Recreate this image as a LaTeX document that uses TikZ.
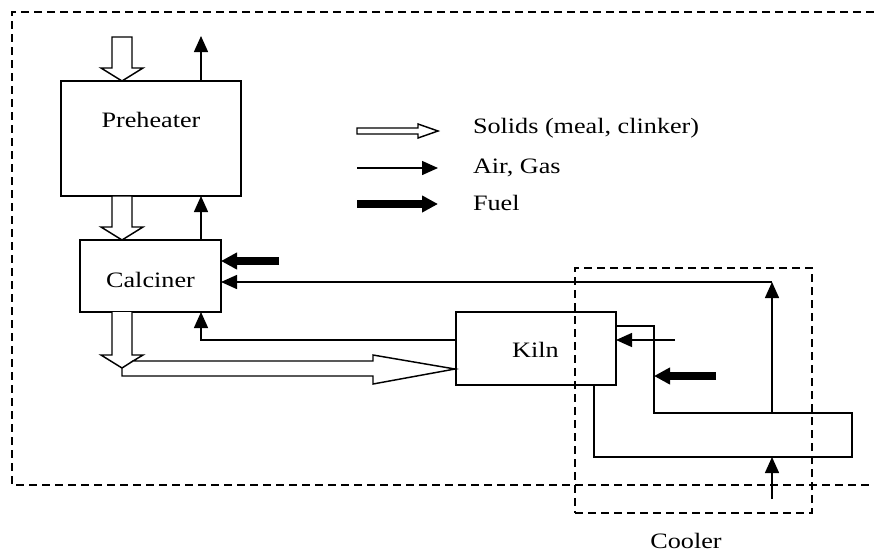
\documentclass[tikz,border=0pt]{standalone}
\usepackage{fontspec}
\setmainfont{Liberation Serif}
\usetikzlibrary{arrows.meta,calc}
\newcommand\wideTxt[1]{\scalebox{1.19}[1]{#1}}
\begin{document}
\begin{tikzpicture}[x=0.75pt,y=-0.75pt,
  box/.style={draw,line width=1.1pt,inner sep=0,outer sep=0},
  lbl/.style={inner sep=0,outer sep=0,font=\fontsize{16.5}{18}\selectfont},
  air/.style={line width=1.1pt,-{Triangle[length=12pt,width=10.5pt]}},
  fuel/.style={line width=6pt,-{Triangle[length=12pt,width=12pt]}},
  hol/.style={draw,line width=1.1pt,fill=white,line join=miter},
  pipe/.style={line width=1.1pt},
  frame/.style={line width=1pt,dash pattern=on 6pt off 3.75pt}]
\useasboundingbox (0,0) rectangle (874,554);

% outer dashed frame (plant boundary)
\draw[frame] (874,12) -- (12,12) -- (12,485) -- (874,485);

% boxes
\node[box,minimum width=135pt,minimum height=86.25pt] (pre) at (151,138.5) {};
\node[box,minimum width=105.75pt,minimum height=54pt] (cal) at (150.5,276) {};
\node[box,minimum width=120pt,minimum height=54.75pt] (kiln) at (536,348.5) {};
\node[draw,frame,inner sep=0,outer sep=0,minimum width=177.75pt,minimum height=183.75pt] (cooler) at (693.5,390.5) {};

% labels
\node[lbl,anchor=base] (preT) at (151,127) {\wideTxt{Preheater}};
\node[lbl,anchor=base] (calT) at (150.5,287) {\wideTxt{Calciner}};
\node[lbl,anchor=base] (kilnT) at (535.5,357) {\wideTxt{Kiln}};
\node[lbl,anchor=base] (coolT) at (686,548) {\wideTxt{Cooler}};

% legend
\node[lbl,anchor=base west] (lg1) at (473,133) {\wideTxt{Solids (meal, clinker)}};
\node[lbl,anchor=base west] (lg2) at (473,173) {\wideTxt{Air, Gas}};
\node[lbl,anchor=base west] (lg3) at (473,210) {\wideTxt{Fuel}};
\draw[hol] (357,128) -- (418,128) -- (418,124) -- (438,131) -- (418,138) -- (418,134) -- (357,134) -- cycle;
\coordinate (l2a) at (357,168); \coordinate (l2b) at (438,168);
\draw[air] (l2a) -- (l2b);
\coordinate (l3a) at (357,204); \coordinate (l3b) at (438,204);
\draw[fuel] (l3a) -- (l3b);

% helper coordinates
\coordinate (solX) at (122,0);
\coordinate (airX) at (201,0);

% solids
\draw[hol] (solX |- pre.north) -- ++(-21,-13) -- ++(11,0) -- ++(0,-31) -- ++(20,0) -- ++(0,31) -- ++(11,0) -- cycle;
\draw[hol] (solX |- cal.north) -- ++(-21,-13) -- ++(11,0) -- ++(0,-31) -- ++(20,0) -- ++(0,31) -- ++(11,0) -- cycle;
\draw[hol] (112,312) -- (112,355) -- (101,355) -- (122,368) -- (122,376) -- (373,376) -- (373,384) -- (455,369) -- (373,355) -- (373,361) -- (133,361) -- (143,355) -- (132,355) -- (132,312);
\draw[pipe] (133,361) -- (122,368);

% gas
\coordinate (airTop) at (201,36);
\draw[air] (airX |- pre.north) -- (airTop);
\draw[air] (airX |- cal.north) -- (airX |- pre.south);
\coordinate (ret) at (772,282);
\coordinate (pipeTop) at (772,413);
\draw[air] (pipeTop) -- (ret);
\draw[air] (ret) -- (ret -| cal.east);
\coordinate (kOut) at (0,340);
\draw[air] (kiln.west |- kOut) -| (airX |- cal.south);
\coordinate (kAir) at (675,340);
\draw[air] (kAir) -- (kAir -| kiln.east);
\coordinate (coolIn) at (772,499);
\coordinate (pipeBot) at (772,457);
\draw[air] (coolIn) -- (pipeBot);

% fuel
\coordinate (fuelC) at (279,261);
\draw[fuel] (fuelC) -- (fuelC -| cal.east);
\coordinate (pipeX) at (654,0);
\coordinate (fuelK) at (716,376);
\draw[fuel] (fuelK) -- (fuelK -| pipeX);

% cooler pipe
\coordinate (kHot) at (0,326);
\coordinate (kB) at (594,0);
\draw[pipe] (kiln.east |- kHot) -- (pipeX |- kHot) -- (pipeX |- pipeTop) -- (852,413) -- (852,457) -- (594,457) -- (kB |- kiln.south);
\end{tikzpicture}
\end{document}
